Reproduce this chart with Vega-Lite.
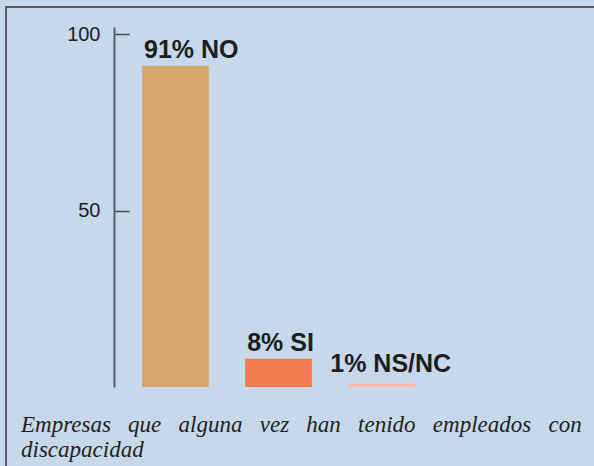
{
  "$schema": "https://vega.github.io/schema/vega-lite/v6.json",
  "width": 590,
  "height": 461,
  "autosize": {"type": "none"},
  "padding": {"left": 6, "top": 7, "right": -2, "bottom": -2},
  "background": "#c6d8ea",
  "config": {
    "view": {"stroke": "#555a61", "strokeWidth": 2},
    "font": "Liberation Sans"
  },
  "title": {
    "text": ["Empresas\u00a0\u00a0\u00a0que\u00a0\u00a0\u00a0alguna\u00a0\u00a0\u00a0vez\u00a0\u00a0\u00a0han\u00a0\u00a0\u00a0tenido\u00a0\u00a0\u00a0empleados\u00a0\u00a0\u00a0con", "discapacidad"],
    "orient": "bottom",
    "anchor": "start",
    "frame": "group",
    "baseline": "alphabetic",
    "offset": -36,
    "dx": 15,
    "font": "Liberation Serif",
    "fontStyle": "italic",
    "fontWeight": "normal",
    "fontSize": 23,
    "lineHeight": 25,
    "color": "#231f20"
  },
  "data": {
    "values": [
      {"respuesta": "NO", "porcentaje": 91, "etiqueta": "91% NO"},
      {"respuesta": "SI", "porcentaje": 8, "etiqueta": "8% SI"},
      {"respuesta": "NS/NC", "porcentaje": 1, "etiqueta": "1% NS/NC"}
    ]
  },
  "encoding": {
    "x": {
      "field": "respuesta",
      "type": "nominal",
      "sort": null,
      "scale": {"range": [136, 409], "paddingInner": 0.353, "paddingOuter": 0},
      "axis": null
    },
    "y": {
      "field": "porcentaje",
      "type": "quantitative",
      "scale": {"domain": [0, 102], "range": [380, 20], "nice": false},
      "axis": {
        "orient": "right",
        "title": null,
        "values": [50, 100],
        "grid": false,
        "offset": -482,
        "domainColor": "#5a6068",
        "domainWidth": 2,
        "tickColor": "#4a4f55",
        "tickWidth": 1.5,
        "tickSize": 15,
        "labelAlign": "right",
        "labelPadding": -29,
        "labelFont": "Liberation Sans",
        "labelFontSize": 20,
        "labelColor": "#222222"
      }
    }
  },
  "layer": [
    {
      "mark": {"type": "bar"},
      "encoding": {
        "color": {
          "field": "respuesta",
          "type": "nominal",
          "scale": {"domain": ["NO", "SI", "NS/NC"], "range": ["#d5a56e", "#f47a52", "#fdbba6"]},
          "legend": null
        }
      }
    },
    {
      "transform": [{"filter": "datum.respuesta !== 'NS/NC'"}],
      "mark": {"type": "text", "align": "left", "baseline": "alphabetic", "dx": 2, "dy": -8, "fontSize": 25, "fontWeight": "bold", "font": "Liberation Sans", "color": "#1e1e1e"},
      "encoding": {
        "x": {"field": "respuesta", "type": "nominal", "sort": null, "bandPosition": 0},
        "text": {"field": "etiqueta"}
      }
    },
    {
      "transform": [{"filter": "datum.respuesta === 'NS/NC'"}],
      "mark": {"type": "text", "align": "left", "baseline": "alphabetic", "dx": -18, "dy": -11, "fontSize": 25, "fontWeight": "bold", "font": "Liberation Sans", "color": "#1e1e1e"},
      "encoding": {
        "x": {"field": "respuesta", "type": "nominal", "sort": null, "bandPosition": 0},
        "text": {"field": "etiqueta"}
      }
    }
  ]
}
